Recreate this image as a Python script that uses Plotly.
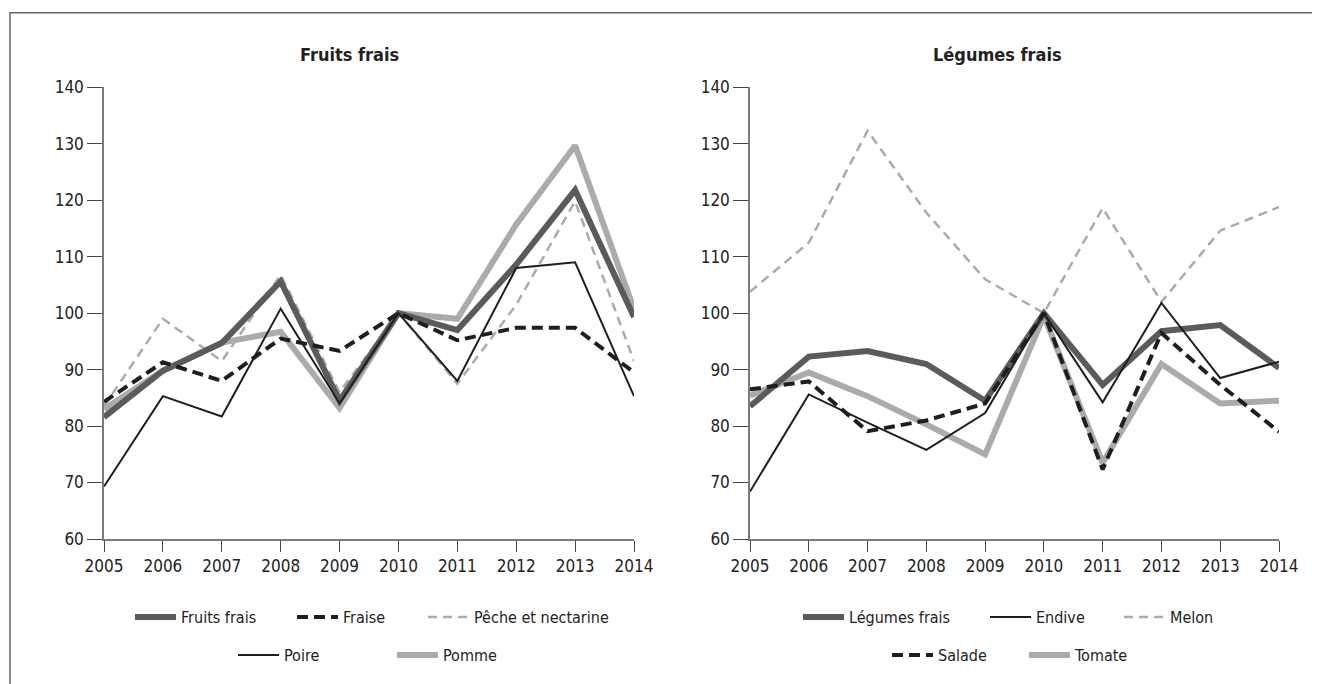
import plotly.graph_objects as go

# ---------------- data ----------------
years = [2005, 2006, 2007, 2008, 2009, 2010, 2011, 2012, 2013, 2014]

fruits_frais = [81.6, 89.8, 94.7, 105.6, 84.5, 100, 97.0, 108.6, 121.8, 99.3]
fraise = [84.3, 91.3, 88.0, 95.5, 93.3, 100, 95.2, 97.4, 97.4, 89.5]
peche = [83.5, 99.0, 91.5, 106.8, 86.0, 100, 87.5, 101.5, 119.8, 91.5]
poire = [69.3, 85.3, 81.7, 100.8, 84.0, 100, 88.0, 108.0, 109.0, 85.3]
pomme = [83.0, 89.8, 94.8, 96.7, 83.2, 100, 99.0, 115.7, 129.7, 100.7]

legumes_frais = [83.5, 92.3, 93.3, 91.0, 84.5, 100, 87.3, 96.8, 97.9, 90.3]
endive = [68.4, 85.6, 80.6, 75.8, 82.3, 100, 84.2, 101.8, 88.5, 91.4]
melon = [103.8, 112.5, 132.3, 117.8, 106.0, 100, 118.6, 102.0, 114.6, 118.8]
salade = [86.5, 87.9, 79.1, 81.0, 84.0, 100, 72.3, 96.5, 87.3, 79.0]
tomate = [85.4, 89.5, 85.3, 80.3, 75.0, 99.5, 73.5, 91.0, 84.0, 84.5]

titles = ["Fruits frais", "Légumes frais"]
y_ticks = [60, 70, 80, 90, 100, 110, 120, 130, 140]

# ---------------- styles ----------------
FONT = "DejaVu Sans Condensed, Liberation Sans Narrow, DejaVu Sans, sans-serif"
THICK_DARK = dict(color="#5b5b5b", width=6)
THICK_LIGHT = dict(color="#ababab", width=6)
DASH_BLACK = dict(color="#1e1e1e", width=4, dash="11px,6px")
DASH_LIGHT = dict(color="#ababab", width=2.5, dash="9px,6px")
THIN_BLACK = dict(color="#1e1e1e", width=2)

W, H = 1320, 684
OFF = 8  # page body margin: figure origin sits at (8, 8) on the page
def px(xp):
    return (xp - OFF) / W
def py(yp):
    return 1 - (yp - OFF) / H

fig = go.Figure()

# legend slot positions (line start x, row centre y) in page pixels
legend_pos = {}
def add(x, y, name, line, xa, ya, legend_id, lx, ly):
    fig.add_trace(go.Scatter(
        x=x, y=y, name=name, mode="lines", line=line,
        xaxis=xa, yaxis=ya, legend=legend_id,
        hoverinfo="x+y+name"))
    legend_pos[legend_id] = (lx, ly)

ROW1, ROW2 = 617, 655
# left panel (light thick first so darker lines sit on top)
add(years, pomme, "Pomme", THICK_LIGHT, "x", "y", "legend6", 397, ROW2)
add(years, peche, "Pêche et nectarine", DASH_LIGHT, "x", "y", "legend4", 428, ROW1)
add(years, fruits_frais, "Fruits frais", THICK_DARK, "x", "y", "legend2", 135, ROW1)
add(years, fraise, "Fraise", DASH_BLACK, "x", "y", "legend3", 297, ROW1)
add(years, poire, "Poire", THIN_BLACK, "x", "y", "legend5", 238, ROW2)

# right panel
add(years, tomate, "Tomate", THICK_LIGHT, "x2", "y2", "legend11", 1029, ROW2)
add(years, melon, "Melon", DASH_LIGHT, "x2", "y2", "legend9", 1124, ROW1)
add(years, legumes_frais, "Légumes frais", THICK_DARK, "x2", "y2", "legend7", 803, ROW1)
add(years, endive, "Endive", THIN_BLACK, "x2", "y2", "legend8", 990, ROW1)
add(years, salade, "Salade", DASH_BLACK, "x2", "y2", "legend10", 892, ROW2)

xax = dict(range=[2005, 2014], tickmode="array", tickvals=years,
           ticktext=[str(v) for v in years],
           showline=True, linecolor="#7a7a7a", linewidth=1.5,
           ticks="outside", ticklen=11, tickcolor="#444", tickwidth=1.2,
           showgrid=False, zeroline=False,
           tickfont=dict(family=FONT, size=17, color="#222"), fixedrange=True)
yax = dict(range=[60, 140], tickmode="array", tickvals=y_ticks,
           showline=True, linecolor="#7a7a7a", linewidth=1.5,
           ticks="outside", ticklen=15, tickcolor="#444", tickwidth=1.2,
           showgrid=False, zeroline=False,
           tickfont=dict(family=FONT, size=17, color="#222"), fixedrange=True)

ydom = [py(539), py(87.3)]
fig.update_layout(
    width=W, height=H,
    margin=dict(l=0, r=0, t=0, b=0, autoexpand=False),
    paper_bgcolor="white", plot_bgcolor="white",
    xaxis=dict(xax, domain=[px(104), px(634)], anchor="y"),
    yaxis=dict(yax, domain=ydom, anchor="x"),
    xaxis2=dict(xax, domain=[px(750), px(1279)], anchor="y2"),
    yaxis2=dict(yax, domain=ydom, anchor="x2"),
    font=dict(family=FONT, color="#222"),
    showlegend=True,
)

for lid, (lx, ly) in legend_pos.items():
    fig.update_layout({lid: dict(
        orientation="h", xanchor="left", yanchor="middle",
        x=px(lx - 5), y=py(ly), itemwidth=41,
        font=dict(family=FONT, size=16, color="#222"),
        bgcolor="rgba(0,0,0,0)", borderwidth=0)})

# panel titles
for t, xc in zip(titles, [349, 997]):
    fig.add_annotation(text="<b>" + t + "</b>", x=px(xc), y=py(55),
                       xref="paper", yref="paper", showarrow=False,
                       xanchor="center", yanchor="middle",
                       font=dict(family=FONT, size=18, color="#222"))

# outer frame
fig.add_shape(type="rect", xref="paper", yref="paper",
              x0=px(10), x1=px(1315), y0=-0.05, y1=py(12.7),
              line=dict(color="#666", width=1.5), fillcolor="rgba(0,0,0,0)",
              layer="below")

fig.write_html("out.html")
